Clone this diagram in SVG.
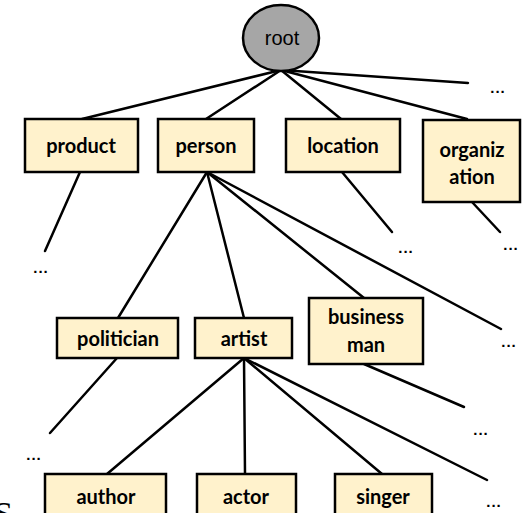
<svg xmlns="http://www.w3.org/2000/svg" width="527" height="513" viewBox="0 0 527 513">
<style>
.box{fill:#FFF2CC;stroke:#000;stroke-width:2.5}
.lbl{font-family:Lato,"Liberation Sans",sans-serif;font-weight:bold;font-size:20px;fill:#000;text-anchor:middle}
.dots{font-family:"Liberation Sans",Arial,sans-serif;font-weight:bold;font-size:15px;letter-spacing:1px;fill:#000;text-anchor:middle}
#connectors line{stroke:#000;stroke-width:2.5;stroke-linecap:round}
</style>
<rect width="527" height="513" fill="#fff"/>
<g id="connectors">
<line x1="281" y1="70" x2="82" y2="119"/>
<line x1="281" y1="70" x2="206" y2="119"/>
<line x1="281" y1="70" x2="341" y2="119"/>
<line x1="281" y1="70" x2="467" y2="119"/>
<line x1="281" y1="70" x2="468" y2="83"/>
<line x1="80" y1="172" x2="45" y2="251"/>
<line x1="207" y1="172" x2="118" y2="318"/>
<line x1="207" y1="172" x2="244" y2="318"/>
<line x1="207" y1="172" x2="364" y2="298"/>
<line x1="207" y1="172" x2="501" y2="329"/>
<line x1="342" y1="172" x2="392" y2="232"/>
<line x1="472" y1="202" x2="500" y2="232"/>
<line x1="117" y1="358" x2="50" y2="433"/>
<line x1="364" y1="364" x2="464" y2="407"/>
<line x1="244" y1="358" x2="107" y2="474"/>
<line x1="244" y1="358" x2="245" y2="474"/>
<line x1="244" y1="358" x2="382" y2="474"/>
<line x1="244" y1="358" x2="487" y2="480"/>
</g>
<g id="root">
<ellipse cx="281" cy="38" rx="38" ry="33" fill="#A6A6A6" stroke="#000" stroke-width="2.5"/>
<text x="282" y="45" font-family="'Liberation Sans',Arial,sans-serif" font-size="20" text-anchor="middle" fill="#000">root</text>
</g>
<g id="product"><rect class="box" x="25" y="119" width="113" height="53"/><text class="lbl" x="81" y="153">product</text></g>
<g id="person"><rect class="box" x="158" y="119" width="96" height="53"/><text class="lbl" x="206" y="153">person</text></g>
<g id="location"><rect class="box" x="286" y="119" width="114" height="53"/><text class="lbl" x="343" y="153">location</text></g>
<g id="organization"><rect class="box" x="423" y="120" width="97" height="82"/><text class="lbl" x="472" y="157">organiz</text><text class="lbl" x="472" y="184">ation</text></g>
<g id="politician"><rect class="box" x="57" y="318" width="121" height="40"/><text class="lbl" x="118" y="346">politician</text></g>
<g id="artist"><rect class="box" x="195" y="318" width="97" height="40"/><text class="lbl" x="244" y="346">artist</text></g>
<g id="businessman"><rect class="box" x="309" y="298" width="114" height="66"/><text class="lbl" x="366" y="324">business</text><text class="lbl" x="366" y="352">man</text></g>
<g id="author"><rect class="box" x="45" y="474" width="121" height="45"/><text class="lbl" x="106" y="504">author</text></g>
<g id="actor"><rect class="box" x="197" y="474" width="99" height="45"/><text class="lbl" x="246" y="504">actor</text></g>
<g id="singer"><rect class="box" x="335" y="474" width="97" height="45"/><text class="lbl" x="383" y="504">singer</text></g>
<g id="ellipses">
<text class="dots" x="498" y="93">...</text>
<text class="dots" x="406" y="253">...</text>
<text class="dots" x="511" y="250">...</text>
<text class="dots" x="41" y="273">...</text>
<text class="dots" x="509" y="347">...</text>
<text class="dots" x="34" y="460">...</text>
<text class="dots" x="481" y="435">...</text>
<text class="dots" x="494" y="507">...</text>
</g>
<text x="-6" y="525" font-family="'Liberation Serif',serif" font-size="34" fill="#000">S</text>
</svg>
